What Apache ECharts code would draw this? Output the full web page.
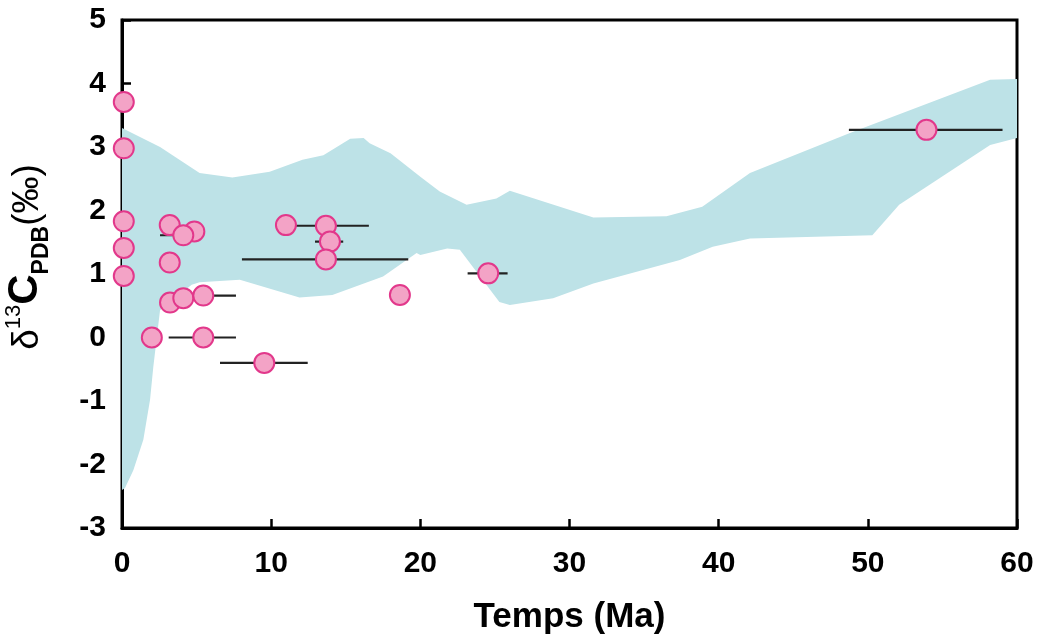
<!DOCTYPE html>
<html>
<head>
<meta charset="utf-8">
<script src="https://cdn.jsdelivr.net/npm/echarts@6/dist/echarts.min.js"></script>
<style>html,body{margin:0;padding:0;background:#fff}#c{width:1037px;height:639px}</style>
</head>
<body>
<div id="c"></div>
<script>
// ---- data ----
var xTicks = [0, 10, 20, 30, 40, 50, 60];
var yTicks = [-3, -2, -1, 0, 1, 2, 3, 4, 5];

// envelope (shaded band): upper edge left->right, lower edge right->left
var bandUpper = [
  [0, 3.30], [2.55, 3.00], [5.2, 2.59], [7.4, 2.52], [9.9, 2.61], [12.1, 2.80],
  [13.5, 2.87], [15.3, 3.13], [16.2, 3.14], [16.6, 3.06], [18.0, 2.90],
  [20.0, 2.53], [21.3, 2.30], [23.1, 2.09], [25.1, 2.19], [26.0, 2.31],
  [31.6, 1.89], [36.5, 1.91], [38.9, 2.06], [42.1, 2.59], [48.8, 3.22],
  [58.2, 4.06], [60, 4.07]
];
var bandLower = [
  [60, 3.14], [58.2, 3.03], [52.1, 2.09], [50.3, 1.61], [42.1, 1.56],
  [39.6, 1.43], [37.4, 1.22], [31.6, 0.85], [28.9, 0.62], [26.0, 0.51],
  [25.3, 0.56], [22.65, 1.38], [21.8, 1.40], [20.0, 1.30], [19.75, 1.33],
  [17.5, 0.96], [14.1, 0.67], [11.9, 0.63], [7.9, 0.91], [5.2, 0.87],
  [4.67, 0.83], [2.55, 0.43], [2.1, -0.46], [1.88, -0.98], [1.43, -1.61],
  [0.76, -2.09], [0.2, -2.37], [0, -2.40]
];

// samples: [age (Ma), d13C]
var samples = [
  [0.12, 3.71], [0.12, 2.98], [0.12, 1.83], [0.12, 1.41], [0.12, 0.97],
  [2.0, 0.0], [3.2, 1.77], [4.85, 1.67], [4.11, 1.61], [3.2, 1.18],
  [3.22, 0.55], [4.11, 0.62], [5.45, 0.66], [5.45, 0.0], [9.54, -0.40],
  [10.99, 1.77], [13.67, 1.76], [13.94, 1.51], [13.67, 1.23], [18.63, 0.67],
  [24.55, 1.01], [53.93, 3.27]
];

// horizontal age uncertainty bars: [ageMin, ageMax, d13C]
var ageBars = [
  [2.55, 5.5, 1.61], [3.3, 7.64, 0.66], [3.13, 7.64, 0.0], [6.57, 12.45, -0.40],
  [11.0, 16.55, 1.76], [12.94, 14.83, 1.51], [8.04, 19.19, 1.23],
  [23.17, 25.85, 1.01], [48.73, 59.03, 3.27]
];

var chart = echarts.init(document.getElementById('c'), null, {renderer: 'canvas'});
var FONT = "'Liberation Sans', Arial, Helvetica, sans-serif";

var option = {
  backgroundColor: '#fff',
  animation: false,
  grid: {left: 122, right: 20, top: 20, bottom: 111, show: true, borderColor: '#000', borderWidth: 3,
    containLabel: false, outerBoundsMode: 'none'},
  xAxis: {
    type: 'value', min: 0, max: 60, interval: 10,
    name: 'Temps (Ma)', nameLocation: 'middle', nameGap: 72,
    nameTextStyle: {fontFamily: FONT, fontWeight: 'bold', fontSize: 35, color: '#000'},
    axisLine: {show: true, onZero: false, lineStyle: {color: '#000', width: 3}},
    axisTick: {show: true, inside: true, length: 9, lineStyle: {color: '#000', width: 2.5}},
    axisLabel: {fontFamily: FONT, fontWeight: 'bold', fontSize: 30, color: '#000', margin: 21,
      formatter: function (v) { return xTicks.indexOf(v) >= 0 ? String(v) : ''; }},
    splitLine: {show: false}
  },
  yAxis: {
    type: 'value', min: -3, max: 5, interval: 1,
    name: '{d|δ}{sup|13}{c|C}{sub|PDB}{p|(‰)}', nameLocation: 'middle', nameGap: 76, nameRotate: 90,
    nameTextStyle: {
      fontFamily: FONT, color: '#000', padding: [0, 0, 0, 34],
      rich: {
        d: {fontFamily: FONT, fontSize: 37, fontWeight: 'normal', lineHeight: 48, verticalAlign: 'bottom'},
        sup: {fontFamily: FONT, fontSize: 22, fontWeight: 'normal', lineHeight: 48, verticalAlign: 'top', padding: [5, 0, 0, 0]},
        c: {fontFamily: FONT, fontSize: 42, fontWeight: 'bold', lineHeight: 48, verticalAlign: 'bottom'},
        sub: {fontFamily: FONT, fontSize: 23, fontWeight: 'bold', lineHeight: 48, verticalAlign: 'bottom', padding: [0, 0, -7, 0]},
        p: {fontFamily: FONT, fontSize: 37, fontWeight: 'normal', lineHeight: 48, verticalAlign: 'bottom'}
      }
    },
    axisLine: {show: true, onZero: false, lineStyle: {color: '#000', width: 3}},
    axisTick: {show: true, inside: true, length: 9, lineStyle: {color: '#000', width: 2.5}},
    axisLabel: {fontFamily: FONT, fontWeight: 'bold', fontSize: 30, color: '#000', margin: 16,
      formatter: function (v) { return yTicks.indexOf(v) >= 0 ? String(v) : ''; }},
    splitLine: {show: false}
  },
  series: [
    {
      type: 'custom', silent: true, z: 1,
      data: [[0, 0]],
      renderItem: function (params, api) {
        var pts = bandUpper.concat(bandLower).map(function (p) { return api.coord(p); });
        return {type: 'polygon', shape: {points: pts}, style: {fill: '#BDE2E7', stroke: null}};
      }
    },
    {
      type: 'custom', silent: true, z: 2,
      data: ageBars,
      encode: {x: [0, 1], y: 2},
      renderItem: function (params, api) {
        var a = api.coord([api.value(0), api.value(2)]);
        var b = api.coord([api.value(1), api.value(2)]);
        return {type: 'line', shape: {x1: a[0], y1: a[1], x2: b[0], y2: b[1]},
          style: {stroke: '#222', lineWidth: 2.2}};
      }
    },
    {
      type: 'scatter', z: 3,
      data: samples,
      symbol: 'circle', symbolSize: 20,
      itemStyle: {color: '#F3A3C6', borderColor: '#E2388B', borderWidth: 2, opacity: 1}
    }
  ]
};
chart.setOption(option);
</script>
</body>
</html>
